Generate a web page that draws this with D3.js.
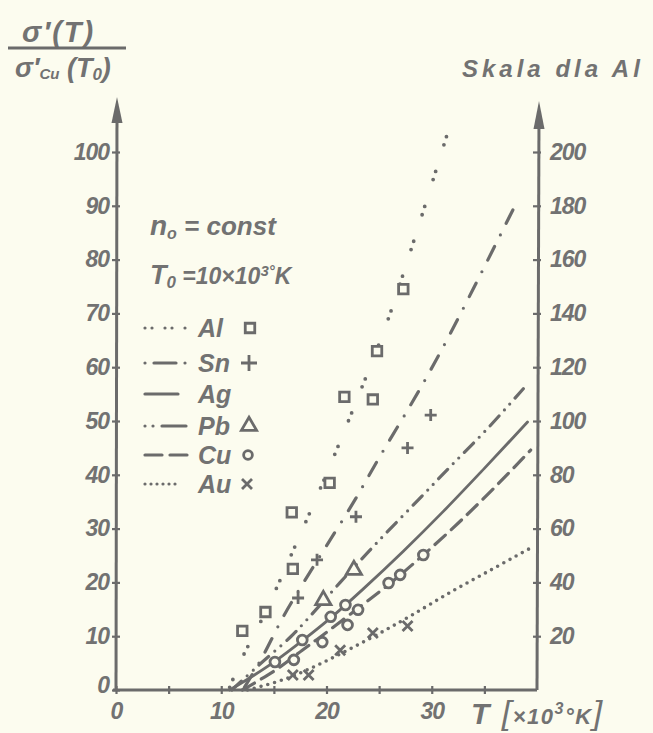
<!DOCTYPE html>
<html>
<head>
<meta charset="utf-8">
<script src="https://cdn.jsdelivr.net/npm/d3@7"></script>
<style>
body { margin: 0; background: #fcfcef; }
svg { display: block; }
text { font-family: "Liberation Sans", Arial, sans-serif; font-style: italic; font-weight: bold; fill: #727272; }
</style>
</head>
<body>
<div id="chart"></div>
<script>
// axis ticks
const xTicks = [0, 5, 10, 15, 20, 25, 30, 35];
const xLabels = [0, 10, 20, 30];
const leftTicks = [0, 10, 20, 30, 40, 50, 60, 70, 80, 90, 100];
const rightTicks = [20, 40, 60, 80, 100, 120, 140, 160, 180, 200];

// curves (T in 10^3 K); Al on the right scale, others on the left
const alT = [10.8, 12, 14.2, 17.3, 20.4, 23, 25.6, 28.3, 31.5];
const alV = [1, 12, 29, 56, 84, 109, 135, 167, 207];
const snT = [12.2, 13.9, 15.8, 17.7, 19.9, 22.6, 25.1, 28.0, 29.9, 31.8, 34.7, 37.8];
const snV = [0.5, 6.1, 13.3, 19.6, 26.5, 35, 43.5, 53, 59.5, 66.4, 77.5, 89.6];
const agT = [10.8, 13, 15.3, 17.8, 20.4, 23.5, 27.3, 31.1, 35.0, 39.1];
const agV = [0, 2.6, 5.6, 9.3, 13.4, 18.8, 25.8, 33.2, 41.2, 49.8];
const pbT = [11, 13.5, 16.6, 18.2, 21.3, 24.9, 28.7, 31.8, 35.3, 38.7];
const pbV = [0, 4.5, 9.9, 13.2, 20, 27.6, 35.3, 41.6, 48.6, 56];
const cuT = [12, 15, 17.7, 19.1, 22.8, 26.1, 29.2, 32.5, 35.9, 39.4];
const cuV = [0, 3.5, 7.4, 9.4, 14.9, 19.9, 25.1, 31, 37.5, 44.6];
const auT = [12.5, 16, 19, 22, 25, 28, 31.8, 35.6, 39.4];
const auV = [0, 2, 4.5, 7.4, 10.5, 13.8, 18.2, 22.3, 26.4];

// measured points
const alPtT = [12.0, 14.2, 16.8, 16.7, 20.3, 21.7, 24.4, 24.8, 27.3];
const alPtV = [22, 29, 45, 66, 77, 109, 108, 126, 149];
const snPtT = [17.3, 19.1, 22.8, 27.7, 29.9];
const snPtV = [17.1, 24.2, 32.2, 45, 51.1];
const pbPtT = [19.7, 22.6];
const pbPtV = [16.7, 22.3];
const cuPtT = [29.2, 27.0, 25.9, 23.0, 21.8, 20.4, 22.0, 19.6, 17.7, 16.9, 15.1];
const cuPtV = [25.1, 21.4, 19.9, 14.9, 15.8, 13.6, 12.1, 8.9, 9.3, 5.6, 5.2];
const auPtT = [16.8, 18.3, 21.3, 24.4, 27.7];
const auPtV = [2.8, 2.8, 7.4, 10.6, 11.9];

const ink = "#6b6b6b";
const bg = "#fcfcef";

const svg = d3.select("#chart")
    .append("svg")
    .attr("width", 653)
    .attr("height", 733);

const x = d3.scaleLinear().domain([0, 40]).range([116, 537]);
const yL = d3.scaleLinear().domain([0, 100]).range([690, 152]);
const yR = d3.scaleLinear().domain([0, 200]).range([690, 152]);

// axes
const gx = svg.append("g")
    .attr("transform", "translate(0," + yL(0) + ")")
    .call(d3.axisBottom(x).tickValues(xTicks).tickSize(4).tickPadding(9)
        .tickFormat(d => xLabels.includes(d) ? d : ""));
const gl = svg.append("g")
    .attr("transform", "translate(" + x(0) + ",0)")
    .call(d3.axisLeft(yL).tickValues(leftTicks).tickSize(4).tickPadding(3));
const gr = svg.append("g")
    .attr("transform", "translate(" + x(40) + ",0)")
    .call(d3.axisRight(yR).tickValues(rightTicks).tickSize(4).tickPadding(9));

[gx, gl, gr].forEach(g => {
    g.select(".domain").remove();
    g.selectAll(".tick line").attr("stroke", ink).attr("stroke-width", 2.2);
    g.selectAll(".tick text").attr("font-size", 23).attr("fill", "#727272")
        .attr("font-family", null).style("letter-spacing", "-1px");
});
gx.selectAll(".tick line").attr("y1", -4);
gl.selectAll(".tick line").attr("x1", 4);
gr.selectAll(".tick line").attr("x1", -4);
gl.select(".tick text").attr("dy", "0.1em");

svg.append("line")
    .attr("x1", x(0) - 3).attr("x2", x(40))
    .attr("y1", yL(0)).attr("y2", yL(0))
    .attr("stroke", ink).attr("stroke-width", 3);
svg.append("line")
    .attr("x1", x(0)).attr("x2", x(0) + 1)
    .attr("y1", yL(0)).attr("y2", 110)
    .attr("stroke", ink).attr("stroke-width", 3);
svg.append("line")
    .attr("x1", x(40)).attr("x2", x(40) + 2)
    .attr("y1", yL(0)).attr("y2", 114)
    .attr("stroke", ink).attr("stroke-width", 3);
svg.append("path")
    .attr("d", "M" + (x(0) + 1) + ",97 l5.5,26 l-11,0 Z")
    .attr("fill", ink);
svg.append("path")
    .attr("d", "M" + (x(40) + 2) + ",101 l5.5,28 l-11,0 Z")
    .attr("fill", ink);

// curves
const line = d3.line().curve(d3.curveCatmullRom.alpha(0.5));
function curve(ts, vs, y, dash, w) {
    svg.append("path")
        .attr("d", line(ts.map((t, i) => [x(t), y(vs[i])])))
        .attr("fill", "none")
        .attr("stroke", ink)
        .attr("stroke-width", w)
        .attr("stroke-linecap", "round")
        .attr("stroke-dasharray", dash);
}
curve(alT, alV, yR, "0,8.5,0,28", 3.8);
curve(snT, snV, yL, "15,13,0,13", 3.2);
curve(agT, agV, yL, null, 2.8);
curve(pbT, pbV, yL, "13,8,0,8,0,8", 3.2);
curve(cuT, cuV, yL, "14,8", 3.2);
curve(auT, auV, yL, "0,7", 3.6);

// markers
function marks(ts, vs, y, type, size) {
    svg.append("g").selectAll("path")
        .data(ts)
        .enter().append("path")
        .attr("transform", (t, i) => "translate(" + x(t) + "," + y(vs[i]) + ")")
        .attr("d", d3.symbol().type(type).size(size))
        .attr("fill", bg)
        .attr("stroke", ink)
        .attr("stroke-width", 2.8);
}
function strokes(ts, vs, y, d) {
    svg.append("g").selectAll("path")
        .data(ts)
        .enter().append("path")
        .attr("transform", (t, i) => "translate(" + x(t) + "," + y(vs[i]) + ")")
        .attr("d", d)
        .attr("fill", "none")
        .attr("stroke", ink)
        .attr("stroke-width", 2.8);
}
marks(alPtT, alPtV, yR, d3.symbolSquare, 90);
strokes(snPtT, snPtV, yL, "M-6,0H6M0,-6V6");
marks(pbPtT, pbPtV, yL, d3.symbolTriangle, 100);
marks(cuPtT, cuPtV, yL, d3.symbolCircle, 75);
strokes(auPtT, auPtV, yL, "M-5,-5L5,5M5,-5L-5,5");

// title fraction
svg.append("text").attr("x", 22).attr("y", 42).attr("font-size", 29)
    .style("letter-spacing", "2px").text("σ′(T)");
svg.append("line").attr("x1", 8).attr("x2", 126).attr("y1", 48).attr("y2", 48)
    .attr("stroke", ink).attr("stroke-width", 3);
const den = svg.append("text").attr("x", 15).attr("y", 77).attr("font-size", 27);
den.append("tspan").text("σ′");
den.append("tspan").attr("font-size", 15).attr("dy", 2).text("Cu");
den.append("tspan").attr("dy", -2).text(" (T");
den.append("tspan").attr("font-size", 17).attr("dy", 3).text("0");
den.append("tspan").attr("dy", -3).text(")");

svg.append("text").attr("x", 462).attr("y", 77).attr("font-size", 24)
    .style("letter-spacing", "4px").text("Skala dla Al");

// legend
const t1 = svg.append("text").attr("x", 150).attr("y", 235).attr("font-size", 28);
t1.append("tspan").text("n");
t1.append("tspan").attr("font-size", 16).attr("dy", 4).text("o");
t1.append("tspan").attr("dy", -4).attr("font-size", 26).text(" = const");
const t2 = svg.append("text").attr("x", 150).attr("y", 284).attr("font-size", 27);
t2.append("tspan").text("T");
t2.append("tspan").attr("font-size", 17).attr("dy", 4).text("0");
t2.append("tspan").attr("dy", -4).attr("font-size", 23).text("  =10×10");
t2.append("tspan").attr("font-size", 15).attr("dy", -8).text("3°");
t2.append("tspan").attr("font-size", 23).attr("dy", 8).text("K");

const legNames = ["Al", "Sn", "Ag", "Pb", "Cu", "Au"];
const legY = [328, 363, 394, 426, 455, 484];
const legDash = ["0,7,0,13", "0,9,22,9,0,99", null, "0,8,0,9,24,99", "17,8,18,99", "0,6"];
const legLen = [43, 42, 33, 42, 42, 35];
legNames.forEach((n, i) => {
    svg.append("line")
        .attr("x1", 145).attr("x2", 145 + legLen[i])
        .attr("y1", legY[i]).attr("y2", legY[i])
        .attr("stroke", ink).attr("stroke-width", 3.2)
        .attr("stroke-linecap", "round")
        .attr("stroke-dasharray", legDash[i]);
    svg.append("text").attr("x", 198).attr("y", legY[i] + 9)
        .attr("font-size", 25).text(n);
});
svg.append("path").attr("transform", "translate(250," + legY[0] + ")")
    .attr("d", d3.symbol().type(d3.symbolSquare).size(90))
    .attr("fill", bg).attr("stroke", ink).attr("stroke-width", 2.8);
svg.append("path").attr("transform", "translate(249," + legY[1] + ")")
    .attr("d", "M-8,0H8M0,-8V8")
    .attr("fill", "none").attr("stroke", ink).attr("stroke-width", 2.8);
svg.append("path").attr("transform", "translate(249," + legY[3] + ")")
    .attr("d", d3.symbol().type(d3.symbolTriangle).size(100))
    .attr("fill", bg).attr("stroke", ink).attr("stroke-width", 2.8);
svg.append("path").attr("transform", "translate(248," + legY[4] + ")")
    .attr("d", d3.symbol().type(d3.symbolCircle).size(60))
    .attr("fill", bg).attr("stroke", ink).attr("stroke-width", 2.8);
svg.append("path").attr("transform", "translate(247," + legY[5] + ")")
    .attr("d", "M-5,-5L5,5M5,-5L-5,5")
    .attr("fill", "none").attr("stroke", ink).attr("stroke-width", 2.8);

// x axis title
const xt = svg.append("text").attr("x", 471).attr("y", 724).attr("font-size", 30)
    .style("letter-spacing", "1.5px");
xt.append("tspan").text("T");
xt.append("tspan").attr("font-size", 34).attr("font-weight", "normal").text(" [");
xt.append("tspan").attr("font-size", 22).text("×10");
xt.append("tspan").attr("font-size", 16).attr("dy", -10).text("3");
xt.append("tspan").attr("font-size", 22).attr("dy", 10).text("°K");
xt.append("tspan").attr("font-size", 34).attr("font-weight", "normal").text("]");
</script>
</body>
</html>
